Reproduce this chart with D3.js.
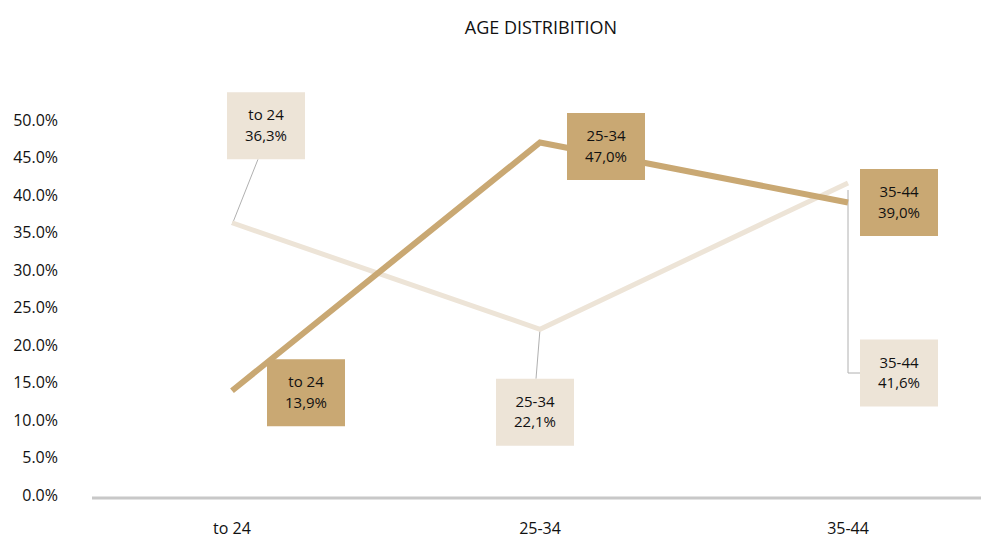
<!DOCTYPE html>
<html>
<head>
<meta charset="utf-8">
<script src="https://cdn.jsdelivr.net/npm/d3@7/dist/d3.min.js"></script>
<style>
  html, body { margin: 0; padding: 0; background: #fff; }
  svg { display: block; font-family: "Open Sans", "Noto Sans", sans-serif; }
</style>
</head>
<body>
<svg id="chart" width="981" height="538"></svg>
<script>
// Age groups and shares (%) for the two series
const categories = ["to 24", "25-34", "35-44"];
const seriesLight = [36.3, 22.1, 41.6];
const seriesDark = [13.9, 47.0, 39.0];
const yTicks = [0, 5, 10, 15, 20, 25, 30, 35, 40, 45, 50];
const chartTitle = "AGE DISTRIBITION";

// Label box placement relative to each point (pixels)
const lightLabelOffset = [{dx: 34, dy: -97}, {dx: -5, dy: 83}, {dx: 51, dy: 190}];
const darkLabelOffset = [{dx: 74, dy: 2}, {dx: 66, dy: 4}, {dx: 51, dy: 0}];

const COLOR_LIGHT = "#ede4d7";
const COLOR_DARK = "#c9a873";
const BOX_W = 78, BOX_H = 67;
const FONT = 16;
const BOX_FONT = 15;

const svg = d3.select("#chart");

const x = d3.scaleBand().domain(categories).range([78, 1002]);
const y = d3.scaleLinear().domain([0, 50]).range([495, 120]);
const cx = c => x(c) + x.bandwidth() / 2;

// Title
svg.append("text")
  .attr("x", 541).attr("y", 34)
  .attr("text-anchor", "middle")
  .attr("font-size", 18)
  .attr("fill", "#111")
  .text(chartTitle);

// Y axis labels
const yAxis = d3.axisLeft(y).tickValues(yTicks).tickFormat(d => d.toFixed(1) + "%").tickSize(0).tickPadding(0);
const yg = svg.append("g").attr("transform", "translate(58,0)").call(yAxis);
yg.select(".domain").remove();
yg.selectAll("text").attr("font-size", FONT).attr("fill", "#111").attr("font-family", "\"Open Sans\", sans-serif");

// X axis baseline and labels
svg.append("line")
  .attr("x1", 92).attr("x2", 981)
  .attr("y1", 498).attr("y2", 498)
  .attr("stroke", "#c8c8c8").attr("stroke-width", 3);

const xAxis = d3.axisBottom(x).tickSize(0).tickPadding(0);
const xg = svg.append("g").attr("transform", "translate(0,523)").call(xAxis);
xg.select(".domain").remove();
xg.selectAll("text").attr("font-size", FONT).attr("fill", "#111").attr("font-family", "\"Open Sans\", sans-serif");

const line = d3.line().x((d, i) => cx(categories[i])).y(d => y(d));

// Leader lines for the light series labels
const leaderColor = "#b0b0b0";
function lightBox(i) {
  const px = cx(categories[i]), py = y(seriesLight[i]);
  return {px, py, bx: px + lightLabelOffset[i].dx, by: py + lightLabelOffset[i].dy};
}
{
  const b0 = lightBox(0);
  svg.append("line").attr("x1", b0.px).attr("y1", b0.py + 2)
    .attr("x2", b0.bx - 8).attr("y2", b0.by + BOX_H / 2)
    .attr("stroke", leaderColor).attr("stroke-width", 1);
  const b1 = lightBox(1);
  svg.append("line").attr("x1", b1.px).attr("y1", b1.py)
    .attr("x2", b1.px - 4).attr("y2", b1.by - BOX_H / 2)
    .attr("stroke", leaderColor).attr("stroke-width", 1);
  const b2 = lightBox(2);
  svg.append("path")
    .attr("d", `M${b2.px},${b2.py + 7}V${b2.by}H${b2.bx - BOX_W / 2}`)
    .attr("fill", "none").attr("stroke", leaderColor).attr("stroke-width", 1);
}

// Series lines
svg.append("path").datum(seriesLight)
  .attr("d", line).attr("fill", "none")
  .attr("stroke", COLOR_LIGHT).attr("stroke-width", 5);
svg.append("path").datum(seriesDark)
  .attr("d", line).attr("fill", "none")
  .attr("stroke", COLOR_DARK).attr("stroke-width", 6);

// Value label boxes
function drawLabel(i, value, offset, fill) {
  const px = cx(categories[i]), py = y(value);
  const bx = px + offset.dx, by = py + offset.dy;
  const g = svg.append("g").attr("transform", `translate(${bx},${by})`);
  g.append("rect")
    .attr("x", -BOX_W / 2).attr("y", -BOX_H / 2)
    .attr("width", BOX_W).attr("height", BOX_H)
    .attr("fill", fill);
  g.append("text").attr("text-anchor", "middle").attr("y", -5.5)
    .attr("font-size", BOX_FONT).attr("fill", "#111").text(categories[i]);
  g.append("text").attr("text-anchor", "middle").attr("y", 15)
    .attr("font-size", BOX_FONT).attr("fill", "#111")
    .text(value.toFixed(1).replace(".", ",") + "%");
}
seriesLight.forEach((v, i) => drawLabel(i, v, lightLabelOffset[i], COLOR_LIGHT));
seriesDark.forEach((v, i) => drawLabel(i, v, darkLabelOffset[i], COLOR_DARK));
</script>
</body>
</html>
